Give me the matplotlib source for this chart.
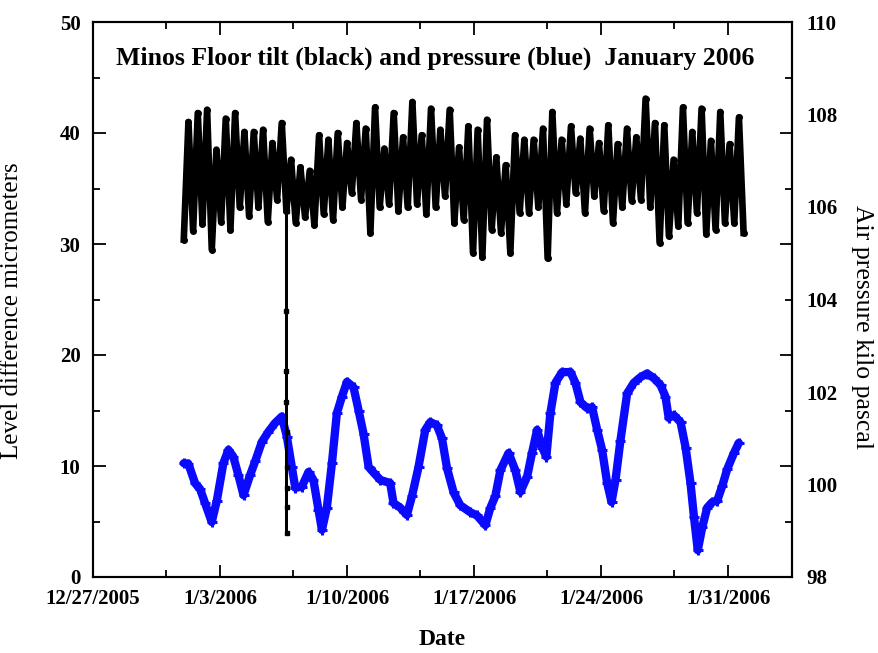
import numpy as np
import pandas as pd
import matplotlib
matplotlib.use("Agg")
import matplotlib.pyplot as plt
import matplotlib.dates as mdates
from matplotlib.ticker import FixedLocator, FuncFormatter, MultipleLocator

plt.rcParams['font.family'] = ['Liberation Serif', 'DejaVu Serif']

# Floor tilt (micrometers): lows and highs of the twice-daily swing
tilt_lows = [30.4, 31.2, 31.8, 29.5, 32.0, 31.3, 33.3, 32.5, 33.3, 32.0,
             34.0, 33.0, 31.9, 32.4, 31.7, 32.7, 32.2, 33.3, 34.6, 34.0,
             31.0, 33.3, 33.6, 33.0, 33.3, 33.6, 32.7, 33.3, 34.3, 31.9,
             32.2, 29.2, 28.8, 31.3, 31.0, 29.2, 32.8, 32.8, 33.3, 28.7,
             32.8, 33.6, 34.6, 32.8, 34.3, 33.0, 31.9, 33.3, 33.9, 34.0,
             33.3, 30.1, 30.7, 31.6, 31.9, 32.8, 30.9, 31.3, 31.9, 31.9, 31.0]
tilt_highs = [41.0, 41.8, 42.1, 38.5, 41.3, 41.8, 40.1, 40.1, 40.3, 39.1,
              40.9, 37.6, 36.9, 36.6, 39.8, 39.4, 40.0, 39.1, 40.9, 40.4,
              42.3, 38.6, 41.8, 39.6, 42.8, 39.8, 42.2, 40.3, 42.1, 38.7,
              40.6, 40.3, 41.2, 37.8, 37.1, 39.8, 39.4, 39.4, 40.4, 41.9,
              39.4, 40.6, 39.5, 40.4, 39.1, 40.7, 39.0, 40.4, 39.6, 43.1,
              40.9, 40.7, 37.6, 42.3, 40.1, 42.2, 39.3, 41.9, 39.0, 41.4]
tilt_start = '2006-01-01 00:00'
tilt_step = '370min'

# the sharp drop on Jan 6 (days after Jan 1)
drop_days = [5.653, 5.655, 5.656, 5.657, 5.658, 5.659, 5.660, 5.661, 5.662, 5.663]
drop_um = [33.0, 24.0, 18.6, 15.8, 13.1, 9.9, 8.0, 6.3, 4.0, 33.0]

# Air pressure (kPa), days after Jan 1
pressure_days = [0.00, 0.25, 0.62, 0.90, 1.17, 1.54, 1.82, 2.18, 2.46, 2.73,
                 3.01, 3.29, 3.65, 3.93, 4.30, 4.66, 5.03, 5.40, 5.68, 5.95,
                 6.14, 6.50, 6.87, 7.14, 7.42, 7.61, 7.88, 8.16, 8.43, 8.71,
                 8.99, 9.35, 9.63, 9.90, 10.18, 10.45, 10.82, 11.37, 11.55, 11.92,
                 12.29, 12.57, 12.93, 13.30, 13.58, 13.94, 14.22, 14.50, 14.86, 15.23,
                 15.78, 16.15, 16.61, 16.89, 17.16, 17.44, 17.89, 18.26, 18.54, 18.91,
                 19.18, 19.46, 19.74, 19.97, 20.19, 20.47, 20.84, 21.30, 21.57, 21.85,
                 22.22, 22.49, 22.77, 23.04, 23.32, 23.56, 23.78, 24.05, 24.42, 24.79,
                 25.15, 25.52, 25.89, 26.26, 26.53, 26.71, 26.99, 27.36, 27.64, 27.91,
                 28.10, 28.31, 28.56, 28.83, 29.11, 29.38, 29.66, 29.93, 30.30, 30.57]
pressure_kpa = [100.46, 100.45, 100.03, 99.90, 99.60, 99.19, 99.65, 100.46, 100.75, 100.60,
                100.20, 99.77, 100.20, 100.50, 100.92, 101.14, 101.33, 101.47, 101.03, 100.38,
                99.93, 99.95, 100.27, 100.10, 99.45, 99.02, 99.50, 100.46, 101.54, 101.90,
                102.22, 102.10, 101.60, 101.10, 100.38, 100.26, 100.10, 100.03, 99.60, 99.50,
                99.34, 99.75, 100.38, 101.18, 101.35, 101.28, 101.00, 100.35, 99.83, 99.55,
                99.40, 99.33, 99.12, 99.50, 99.75, 100.31, 100.68, 100.31, 99.84, 100.17,
                100.68, 101.18, 100.80, 100.60, 101.54, 102.20, 102.43, 102.43, 102.20, 101.78,
                101.65, 101.67, 101.18, 100.75, 100.03, 99.62, 100.10, 100.95, 101.97, 102.20,
                102.32, 102.40, 102.30, 102.15, 101.90, 101.44, 101.50, 101.35, 100.80, 100.03,
                99.30, 98.58, 99.08, 99.50, 99.62, 99.65, 99.97, 100.33, 100.68, 100.90]

x_ticks = ['2005-12-27', '2006-01-03', '2006-01-10', '2006-01-17', '2006-01-24', '2006-01-31']


def run():
    jan1 = pd.Timestamp('2006-01-01')

    tilt = np.empty(len(tilt_lows) + len(tilt_highs))
    tilt[0::2] = tilt_lows
    tilt[1::2] = tilt_highs
    t_tilt = pd.date_range(tilt_start, periods=len(tilt), freq=tilt_step)
    t_drop = jan1 + pd.to_timedelta(drop_days, unit='D')
    t_press = jan1 + pd.to_timedelta(pressure_days, unit='D')

    fig = plt.figure(figsize=(8.79, 6.53), dpi=100)
    ax = fig.add_axes([93 / 879, 1 - 577 / 653, 699 / 879, 555 / 653])
    ax2 = ax.twinx()
    ax.set_zorder(ax2.get_zorder() + 1)
    ax.patch.set_visible(False)

    ax2.plot(t_press, pressure_kpa, color='#0a0aff', lw=6, marker='+', ms=7, mew=2.2,
             solid_capstyle='round', solid_joinstyle='round')
    # main swing drawn thick so it fills like the dense original record
    ax.plot(t_tilt, tilt, color='black', lw=4.8, marker='o', ms=4,
            solid_joinstyle='round')
    ax.plot(t_drop, drop_um, color='black', lw=2, marker='s', ms=3)

    x0 = pd.Timestamp('2005-12-27')
    ax.set_xlim(x0, x0 + pd.Timedelta(days=38.5))
    ax.set_ylim(0, 50)
    ax2.set_ylim(98, 110)

    majors = [mdates.date2num(pd.Timestamp(d)) for d in x_ticks]
    ax.xaxis.set_major_locator(FixedLocator(majors))
    ax.xaxis.set_minor_locator(FixedLocator([m + 4 for m in majors]))
    ax.xaxis.set_major_formatter(FuncFormatter(
        lambda v, pos: '{d.month}/{d.day}/{d.year}'.format(d=mdates.num2date(v))))
    ax.yaxis.set_major_locator(MultipleLocator(10))
    ax.yaxis.set_minor_locator(MultipleLocator(5))
    ax2.yaxis.set_major_locator(MultipleLocator(2))

    ax.tick_params(which='both', direction='in', top=True, right=True, width=1.3)
    ax.tick_params(which='major', length=9)
    ax.tick_params(which='minor', length=5)
    ax.tick_params(axis='both', which='major', labelsize=15, pad=9)
    ax2.tick_params(axis='y', length=0, labelsize=15, pad=10)
    for lab in ax.get_xticklabels() + ax.get_yticklabels() + ax2.get_yticklabels():
        lab.set_fontweight('bold')
    for a in (ax, ax2):
        for s in a.spines.values():
            s.set_linewidth(1.5)

    ax.set_xlabel('Date', fontsize=17, fontweight='bold', labelpad=14)
    ax.set_ylabel('Level difference micrometers', fontsize=18)
    ax.yaxis.set_label_coords(-0.1, 0.48)
    ax2.set_ylabel('Air pressure kilo pascal', fontsize=18.5, rotation=270, va='center')
    ax2.yaxis.set_label_coords(1.1, 0.45)

    ax.text(0.49, 0.935, 'Minos Floor tilt (black) and pressure (blue)  January 2006',
            transform=ax.transAxes, ha='center', va='center', fontsize=18.5, fontweight='bold')

    fig.savefig('out.png', dpi=100)


if __name__ == "__main__":
    run()
